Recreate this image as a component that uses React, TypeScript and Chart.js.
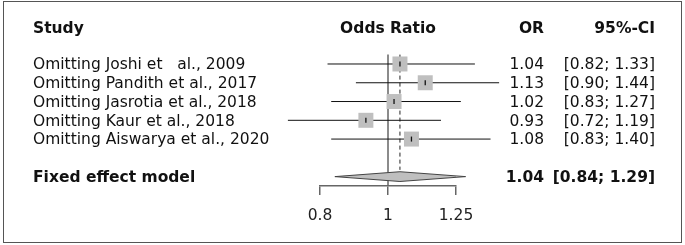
import React, { useEffect, useRef } from "react";
import { Chart, registerables } from "chart.js";

Chart.register(...registerables);

// ---- data ----
const studies = [
  "Omitting Joshi et   al., 2009",
  "Omitting Pandith et al., 2017",
  "Omitting Jasrotia et al., 2018",
  "Omitting Kaur et al., 2018",
  "Omitting Aiswarya et al., 2020",
];
const orValues = [1.04, 1.13, 1.02, 0.93, 1.08];
const ciLower = [0.82, 0.9, 0.83, 0.72, 0.83];
const ciUpper = [1.33, 1.44, 1.27, 1.19, 1.4];
const orLabels = ["1.04", "1.13", "1.02", "0.93", "1.08"];
const ciLabels = ["[0.82; 1.33]", "[0.90; 1.44]", "[0.83; 1.27]", "[0.72; 1.19]", "[0.83; 1.40]"];
const summaryLabel = "Fixed effect model";
const summaryOR = 1.04;
const summaryLower = 0.84;
const summaryUpper = 1.29;
const summaryORLabel = "1.04";
const summaryCILabel = "[0.84; 1.29]";
const headers = ["Study", "Odds Ratio", "OR", "95%-CI"];
const xTicks = [0.8, 1, 1.25];
const xTickLabels = ["0.8", "1", "1.25"];

// ---- layout constants ----
const W = 685;
const H = 245;
const SUMMARY_ROW = 6;
const HEADER_ROW = -1.95;
const DIAMOND_HALF = 0.26;
const FONT = '"DejaVu Sans", sans-serif';
const FS = 15.5;
const TEXT_DY = 1.2;

export default function App() {
  const ref = useRef<HTMLCanvasElement | null>(null);

  useEffect(() => {
    document.body.style.margin = "0";
    const canvas = ref.current!;
    const ciDatasets = studies.map((s, i) => ({
      label: s,
      data: [
        { x: ciLower[i], y: i },
        { x: ciUpper[i], y: i },
      ],
      showLine: true,
      borderColor: "#111",
      borderWidth: 1,
      pointRadius: 0,
      clip: false as any,
      order: 5,
    }));

    const textPlugin = {
      id: "forestText",
      beforeDraw(chart: any) {
        const ctx = chart.ctx;
        ctx.save();
        ctx.fillStyle = "#fff";
        ctx.fillRect(0, 0, W, H);
        ctx.strokeStyle = "#555";
        ctx.lineWidth = 1;
        ctx.strokeRect(3.5, 1.5, 678, 241);
        ctx.restore();
      },
      afterDraw(chart: any) {
        const ctx = chart.ctx;
        const y = chart.scales.y;
        const x = chart.scales.x;
        ctx.save();
        ctx.textBaseline = "middle";
        ctx.fillStyle = "#111";
        // headers
        const hy = y.getPixelForValue(HEADER_ROW) + TEXT_DY;
        ctx.font = `bold ${FS}px ${FONT}`;
        ctx.textAlign = "left";
        ctx.fillText(headers[0], 33, hy);
        ctx.textAlign = "center";
        ctx.fillText(headers[1], x.getPixelForValue(1), hy);
        ctx.textAlign = "right";
        ctx.fillText(headers[2], 544, hy);
        ctx.fillText(headers[3], 655, hy);
        // rows
        ctx.font = `${FS}px ${FONT}`;
        studies.forEach((s, i) => {
          const py = y.getPixelForValue(i) + TEXT_DY;
          ctx.textAlign = "left";
          ctx.fillText(s, 33, py);
          ctx.textAlign = "right";
          ctx.fillText(orLabels[i], 544, py);
          ctx.fillText(ciLabels[i], 655, py);
        });
        // summary
        const sy = y.getPixelForValue(SUMMARY_ROW) + TEXT_DY;
        ctx.font = `bold ${FS}px ${FONT}`;
        ctx.textAlign = "left";
        ctx.fillText(summaryLabel, 33, sy);
        ctx.textAlign = "right";
        ctx.fillText(summaryORLabel, 544, sy);
        ctx.fillText(summaryCILabel, 655, sy);
        ctx.restore();
      },
    };

    const chart = new Chart(canvas, {
      type: "scatter",
      data: {
        datasets: [
          ...ciDatasets,
          {
            label: "ref",
            data: [
              { x: 1, y: -0.5 },
              { x: 1, y: 6.5 },
            ],
            showLine: true,
            borderColor: "#666",
            borderWidth: 1.5,
            pointRadius: 0,
            clip: false as any,
            order: 6,
          },
          {
            label: "summaryLine",
            data: [
              { x: summaryOR, y: -0.5 },
              { x: summaryOR, y: SUMMARY_ROW - DIAMOND_HALF - 0.1 },
            ],
            showLine: true,
            borderColor: "#222",
            borderWidth: 1,
            borderDash: [4, 3],
            pointRadius: 0,
            clip: false as any,
            order: 6,
          },
          {
            label: "squares",
            data: orValues.map((v, i) => ({ x: v, y: i })),
            showLine: false,
            pointStyle: "rect",
            pointRadius: 10.6,
            backgroundColor: "#bfbfbf",
            borderWidth: 0,
            borderColor: "rgba(0,0,0,0)",
            clip: false as any,
            order: 3,
          },
          {
            label: "centers",
            data: orValues.map((v, i) => ({ x: v, y: i })),
            showLine: false,
            pointStyle: "line",
            rotation: 90,
            pointRadius: 2.5,
            borderColor: "#111",
            borderWidth: 1.3,
            clip: false as any,
            order: 1,
          },
          {
            label: "diamond",
            data: [
              { x: summaryLower, y: SUMMARY_ROW },
              { x: summaryOR, y: SUMMARY_ROW - DIAMOND_HALF },
              { x: summaryUpper, y: SUMMARY_ROW },
              { x: summaryOR, y: SUMMARY_ROW + DIAMOND_HALF },
              { x: summaryLower, y: SUMMARY_ROW },
            ],
            showLine: true,
            fill: "shape",
            backgroundColor: "#bfbfbf",
            borderColor: "#444",
            borderWidth: 1,
            pointRadius: 0,
            tension: 0,
            clip: false as any,
            order: 2,
          } as any,
        ],
      },
      options: {
        animation: false,
        responsive: false,
        events: [],
        layout: { padding: { left: 320, right: W - 456, top: 54.6, bottom: 0 } },
        plugins: { legend: { display: false }, tooltip: { enabled: false } },
        scales: {
          x: {
            type: "logarithmic",
            min: 0.8,
            max: 1.25,
            afterBuildTicks: (s: any) => {
              s.ticks = xTicks.map((v) => ({ value: v }));
            },
            afterFit: (s: any) => {
              s.height = H - 186;
            },
            ticks: {
              callback: (v: any) => {
                const idx = xTicks.indexOf(Number(v));
                return idx >= 0 ? xTickLabels[idx] : "";
              },
              font: { family: FONT, size: FS },
              color: "#222",
              padding: 12,
              maxRotation: 0,
              autoSkip: false,
            },
            grid: {
              display: true,
              drawOnChartArea: false,
              drawTicks: true,
              tickLength: 9,
              color: "#666",
              lineWidth: 1.5,
            },
            border: { display: true, color: "#666", width: 1.5 },
          },
          y: {
            type: "linear",
            display: false,
            reverse: true,
            min: -0.5,
            max: 6.5,
          },
        },
      } as any,
      plugins: [textPlugin],
    });
    return () => chart.destroy();
  }, []);

  return <canvas ref={ref} width={W} height={H} style={{ display: "block" }} />;
}
